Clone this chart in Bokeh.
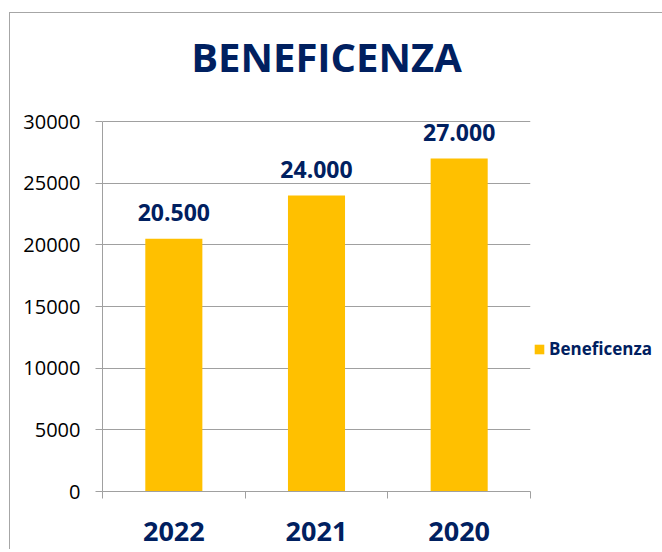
from bokeh.plotting import figure
from bokeh.models import (Range1d, FixedTicker, ColumnDataSource, Legend, LegendItem, Label)
from bokeh.core.properties import value
from bokeh.embed import file_html
from bokeh.resources import INLINE

# ---- data ----
title_text = "BENEFICENZA"
series_name = "Beneficenza"
categories = ["2022", "2021", "2020"]
values = [20500, 24000, 27000]
value_labels = ["20.500", "24.000", "27.000"]
y_ticks = [0, 5000, 10000, 15000, 20000, 25000, 30000]

NAVY = "#002060"
GOLD = "#FFC000"
GRAY = "#a0a0a0"

# layout (pixels)
AXIS_H = 370      # height of the 0..30000 value span
FRAME_H = 478     # frame extends upward to hold the title
y_max = y_ticks[-1]
y_top = y_max * FRAME_H / AXIS_H

xs = [i + 0.5 for i in range(len(categories))]
src = ColumnDataSource(dict(x=xs, top=values, lab=value_labels))

p = figure(x_range=Range1d(0, len(categories)), y_range=Range1d(0, y_top),
           frame_width=428, frame_height=FRAME_H,
           min_border_left=92, min_border_top=0, min_border_right=130, min_border_bottom=58,
           output_backend="svg", toolbar_location=None)
p.margin = (12, 0, 0, 9)
p.styles = {"border-left": "1px solid #a6a6a6", "border-top": "1px solid #a6a6a6"}
p.outline_line_color = None
p.background_fill_color = "white"
p.border_fill_color = "white"

bars = p.vbar(x="x", top="top", width=0.4, bottom=0, source=src,
              fill_color=GOLD, line_color=None)

p.text(x="x", y="top", text="lab", source=src, y_offset=-26,
       text_align="center", text_baseline="alphabetic",
       text_font=value("Open Sans"), text_font_style="bold",
       text_font_size="23px", text_color=NAVY)

# title
p.add_layout(Label(x=len(categories) / 2, y=y_max, x_offset=10, y_offset=65,
                   text=title_text, text_align="center", text_baseline="alphabetic",
                   text_font="Open Sans", text_font_style="bold",
                   text_font_size="40px", text_color=NAVY))

# y axis
p.yaxis.ticker = FixedTicker(ticks=y_ticks)
p.yaxis.bounds = (0, y_max)
p.yaxis.axis_line_color = GRAY
p.yaxis.major_tick_line_color = GRAY
p.yaxis.major_tick_out = 7
p.yaxis.major_tick_in = 0
p.yaxis.minor_tick_line_color = None
p.yaxis.major_label_text_font = "Open Sans"
p.yaxis.major_label_text_font_size = "20px"
p.yaxis.major_label_text_color = "black"
p.yaxis.major_label_standoff = 15

# x axis
p.xaxis.ticker = FixedTicker(ticks=xs, minor_ticks=list(range(len(categories) + 1)))
p.xaxis.major_label_overrides = {x: c for x, c in zip(xs, categories)}
p.xaxis.axis_line_color = GRAY
p.xaxis.major_tick_line_color = None
p.xaxis.major_tick_out = 0
p.xaxis.major_tick_in = 0
p.xaxis.minor_tick_line_color = GRAY
p.xaxis.minor_tick_out = 7
p.xaxis.minor_tick_in = 0
p.xaxis.major_label_text_font = "Open Sans"
p.xaxis.major_label_text_font_style = "bold"
p.xaxis.major_label_text_font_size = "27px"
p.xaxis.major_label_text_color = NAVY
p.xaxis.major_label_standoff = 23

p.xgrid.grid_line_color = None
p.ygrid.ticker = FixedTicker(ticks=y_ticks)
p.ygrid.bounds = (0, y_max)
p.ygrid.grid_line_color = GRAY

# legend
legend = Legend(items=[LegendItem(label=series_name, renderers=[bars])],
                location=(3, 131), orientation="vertical",
                glyph_width=12, glyph_height=12, label_height=12,
                label_standoff=4, padding=0, margin=0, spacing=0,
                border_line_color=None, background_fill_alpha=0,
                label_text_font="Open Sans", label_text_font_style="bold",
                label_text_font_size="17px", label_text_color=NAVY)
p.add_layout(legend, "right")

open("out.html", "w").write(file_html(p, INLINE))
